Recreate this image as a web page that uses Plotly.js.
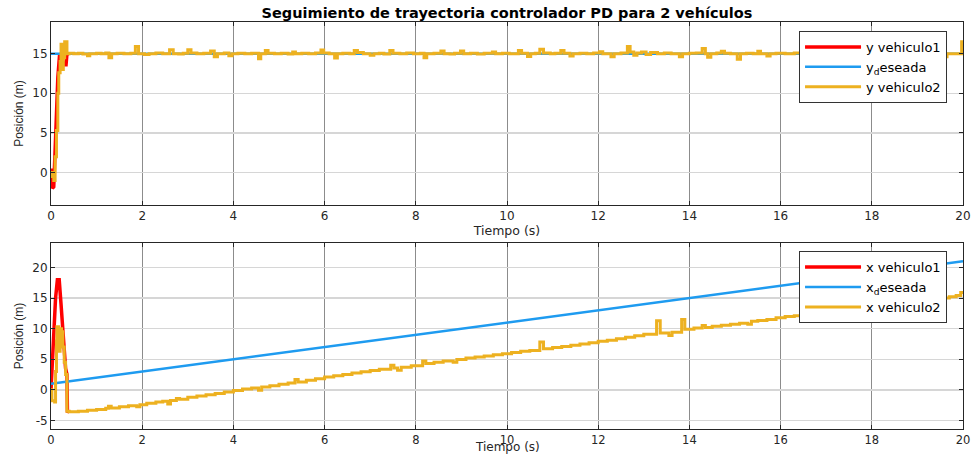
<!DOCTYPE html>
<html>
<head>
<meta charset="utf-8">
<script src="https://cdn.plot.ly/plotly-3.0.1.min.js"></script>
<style>html,body{margin:0;padding:0;background:#fff}#chart{width:974px;height:456px}</style>
</head>
<body>
<div id="chart"></div>
<script>
// ---- Data ----
const xTicks = [0,2,4,6,8,10,12,14,16,18,20];
const yTopTicks = [0,5,10,15];
const yBotTicks = [-5,0,5,10,15,20];
const yBotTickText = ['-5','0','5','10','15','20'];

// Top: y desired
const tYdes = [0, 20];
const yDes = [15, 15];
// Top: y vehiculo1 (transient, then coincides with vehiculo2)
const tY1 = [0,0.03,0.06,0.1,0.15,0.19,0.23,0.27,0.33,0.35,0.4];
const yV1 = [0.5,-2,-1.8,5,12,15,14.8,13.6,13.6,15,15];
// Top: y vehiculo2
const tY2 = [0,0.03,0.06,0.09,0.12,0.15,0.17,0.2,0.22,0.25,0.27,0.3,0.33,0.35,
 0.4,0.5,0.6,0.7,0.8,0.85,1.0,1.1,1.2,1.27,1.33,1.45,1.6,1.75,1.85,1.92,2.05,2.15,2.3,2.45,2.6,2.68,2.8,2.9,3.0,3.07,
 3.2,3.35,3.5,3.58,3.65,3.8,3.9,3.97,4.1,4.25,4.4,4.55,4.6,4.7,4.76,4.9,5.05,5.2,5.3,5.36,5.5,5.65,5.8,5.92,5.98,
 6.1,6.22,6.28,6.4,6.55,6.65,6.72,6.85,7.0,7.08,7.2,7.3,7.43,7.5,7.65,7.8,7.95,8.1,8.18,8.24,8.4,8.55,8.62,8.75,8.85,
 8.98,9.05,9.2,9.35,9.5,9.68,9.75,9.9,10.05,10.25,10.32,10.45,10.52,10.62,10.72,10.8,10.95,11.05,11.18,11.25,11.38,
 11.45,11.6,11.75,11.9,12.03,12.1,12.28,12.35,12.5,12.64,12.7,12.78,12.85,12.95,13.05,13.15,13.3,13.45,13.6,13.78,
 13.85,14.0,14.15,14.28,14.35,14.4,14.47,14.6,14.7,14.77,14.9,15.05,15.12,15.25,15.4,15.5,15.56,15.7,15.77,15.9,
 16.1,16.3,16.5,16.7,16.9,17.1,17.3,17.5,17.7,17.9,18.1,18.3,18.5,18.7,18.9,19.1,19.3,19.5,19.58,19.65,19.8,19.97,20];
const yV2 = [0,-0.5,-1.0,2,5.3,10,12.6,14,16.2,13,14.5,16.5,16.5,15,
 15.05,15.0,15.05,14.95,14.75,15.0,15.05,15.0,15.1,14.5,15.0,15.05,15.0,15.05,15.9,15.0,14.9,15.0,15.1,15.0,15.5,15.0,14.95,15.05,15.5,15.1,
 15.0,15.05,15.35,14.6,15.0,15.1,14.75,15.0,15.05,15.0,15.05,14.35,15.0,15.4,15.05,15.0,15.05,14.95,15.2,15.0,15.05,15.0,15.1,15.45,15.1,
 15.0,14.45,15.0,15.05,15.0,15.4,15.15,15.0,14.8,15.0,15.05,14.95,15.4,15.05,15.0,15.1,15.0,15.05,14.5,15.0,15.05,15.35,15.0,14.95,15.05,
 15.35,15.0,15.05,14.95,15.05,15.2,15.0,15.05,15.0,15.4,15.05,14.65,15.0,15.05,15.55,15.1,15.0,15.05,15.4,15.05,14.7,
 15.0,15.05,15.0,15.1,15.25,15.0,14.6,15.0,15.1,15.9,15.2,14.8,15.1,15.2,14.9,15.15,15.0,15.1,15.0,14.6,
 15.0,15.05,15.1,15.65,15.0,14.55,15.0,15.1,15.3,15.05,15.0,14.3,15.0,15.05,15.0,15.3,15.0,14.7,15.0,15.05,
 15.0,15.1,15.0,15.05,14.9,15.05,15.0,15.1,15.0,15.05,14.95,15.05,15.0,15.1,15.0,15.05,15.0,15.05,14.6,15.0,15.0,16.5,16.5];

// Bottom: x desired
const tXdes = [0, 20];
const xDes = [1, 21];
// Bottom: x vehiculo1 (transient)
const tX1 = [0,0.05,0.1,0.14,0.18,0.22,0.27,0.32,0.35,0.36,0.4];
const xV1 = [0,8,15,18,18,14,8.5,3.5,2.5,-3.5,-3.6];
// Bottom: x vehiculo2
const tX2 = [0,0.02,0.08,0.1,0.12,0.13,0.16,0.17,0.18,0.2,0.23,0.26,0.29,0.32,0.35,
 0.4,0.6,0.8,1.0,1.2,1.26,1.32,1.5,1.7,1.88,1.95,2.1,2.3,2.45,2.56,2.62,2.75,2.82,3.0,3.2,3.4,3.6,3.8,4.0,4.2,4.4,
 4.55,4.62,4.8,5.0,5.2,5.35,5.42,5.6,5.8,6.0,6.2,6.4,6.6,6.8,7.0,7.2,7.45,7.52,7.6,7.68,7.9,8.15,8.22,8.4,8.6,8.82,
 8.9,9.1,9.3,9.5,9.7,9.9,10.1,10.3,10.5,10.72,10.8,11.0,11.2,11.4,11.6,11.8,12.0,12.2,12.4,12.6,12.8,13.0,13.28,
 13.36,13.55,13.62,13.83,13.9,14.1,14.28,14.35,14.5,14.7,14.9,15.1,15.28,15.36,15.5,15.7,15.9,16.1,16.3,16.5,16.7,
 16.9,16.98,17.05,17.2,17.28,17.5,17.7,17.9,18.1,18.28,18.35,18.55,18.8,19.05,19.12,19.3,19.5,19.7,19.85,19.95,20];
const xV2 = [0,-1.8,-2.0,3,8,10.3,10.3,8,6.3,10,9.5,7,4.5,2.5,-3.5,
 -3.6,-3.5,-3.35,-3.2,-3.0,-2.7,-2.95,-2.75,-2.6,-2.75,-2.45,-2.2,-2.0,-1.85,-2.3,-1.75,-1.4,-1.55,-1.2,-1.0,-0.8,-0.6,-0.35,-0.1,0.15,0.3,
 -0.05,0.45,0.65,0.9,1.1,1.7,1.3,1.55,1.8,2.1,2.3,2.5,2.75,2.95,3.15,3.35,4.0,3.55,3.2,3.7,3.95,4.7,4.3,4.5,4.7,4.5,
 4.95,5.2,5.35,5.55,5.75,5.9,6.1,6.3,6.45,7.8,6.7,6.9,7.1,7.3,7.5,7.7,7.95,8.1,8.35,8.6,8.85,9.1,11.3,
 9.3,8.9,9.4,11.5,9.9,10.1,10.5,10.2,10.4,10.55,10.7,10.9,10.7,11.2,11.35,11.5,11.8,12.0,12.1,12.25,12.4,
 12.6,12.2,12.7,13.6,12.9,13.1,13.3,13.5,13.7,14.6,13.9,14.1,14.3,14.2,14.6,14.8,15.0,15.2,15.4,15.9,15.7];

// ---- Styling ----
const RED = '#ff0000', BLUE = '#1e9bf0', YEL = '#edb120';
const FONT = 'DejaVu Sans, Liberation Sans, Arial, sans-serif';

const traces = [
  {x:tY1, y:yV1, mode:'lines', name:'y vehiculo1', line:{color:RED, width:3.5}, xaxis:'x', yaxis:'y', legend:'legend'},
  {x:tYdes, y:yDes, mode:'lines', name:'y<sub>d</sub>eseada', line:{color:BLUE, width:2.5}, xaxis:'x', yaxis:'y', legend:'legend'},
  {x:tY2, y:yV2, mode:'lines', name:'y vehiculo2', line:{color:YEL, width:3, shape:'hv'}, xaxis:'x', yaxis:'y', legend:'legend'},
  {x:tX1, y:xV1, mode:'lines', name:'x vehiculo1', line:{color:RED, width:3.5}, xaxis:'x2', yaxis:'y2', legend:'legend2'},
  {x:tXdes, y:xDes, mode:'lines', name:'x<sub>d</sub>eseada', line:{color:BLUE, width:2.5}, xaxis:'x2', yaxis:'y2', legend:'legend2'},
  {x:tX2, y:xV2, mode:'lines', name:'x vehiculo2', line:{color:YEL, width:3, shape:'hv'}, xaxis:'x2', yaxis:'y2', legend:'legend2'}
];

function xax(anchor, withTitle, tickSize){
  const a = {anchor:anchor, domain:[0,1], range:[0,20], tickvals:xTicks, ticks:'inside', ticklen:4,
    tickcolor:'#262626', showline:true, linecolor:'#262626', linewidth:1, mirror:'ticks',
    showgrid:true, gridcolor:'#8c8c8c', gridwidth:1, zeroline:false,
    tickfont:{family:FONT, size:tickSize, color:'#262626'}};
  if (withTitle) a.title = {text:'Tiempo (s)', font:{family:FONT, size:12.5, color:'#262626'}, standoff:0};
  return a;
}
function yax(anchor, dom, rng, tv, tt){
  const a = {anchor:anchor, domain:dom, range:rng, tickvals:tv, ticks:'inside', ticklen:4,
    tickcolor:'#262626', showline:true, linecolor:'#262626', linewidth:1, mirror:'ticks',
    showgrid:true, gridcolor:'#d6d6d6', gridwidth:1.5, zeroline:false,
    tickfont:{family:FONT, size:12, color:'#262626'},
    title:{text:'Posición (m)', font:{family:'Liberation Sans Narrow, Liberation Sans, Arial, sans-serif', size:12, color:'#262626'}, standoff:6}};
  if (tt) a.ticktext = tt;
  return a;
}

const legendCommon = {x:0.9825, xanchor:'right', yanchor:'top', bgcolor:'#ffffff', bordercolor:'#333333', borderwidth:1,
    font:{family:FONT, size:13, color:'#000'}, tracegroupgap:0, itemwidth:56};

const layout = {
  width:974, height:456,
  margin:{l:51, r:11, t:22, b:27},
  paper_bgcolor:'#ffffff', plot_bgcolor:'#ffffff',
  showlegend:true,
  title:{text:'<b>Seguimiento de trayectoria controlador PD para 2 vehículos</b>',
    font:{family:FONT, size:14.5, color:'#000'}, x:0.5, xref:'paper', y:1-13/456, yref:'container', yanchor:'middle'},
  xaxis: xax('y', true, 12),
  yaxis: yax('x', [0.5504,1], [-4.1,19], yTopTicks),
  xaxis2: xax('y2', false, 11.5),
  yaxis2: yax('x2', [0,0.457], [-6.4,24], yBotTicks, yBotTickText),
  legend: Object.assign({}, legendCommon, {y:0.978}),
  legend2: Object.assign({}, legendCommon, {y:0.437}),
  annotations:[{text:'Tiempo (s)', xref:'paper', yref:'paper', x:0.5, y:-27/407, xanchor:'center', yanchor:'bottom',
    showarrow:false, font:{family:FONT, size:12, color:'#262626'}}]
};

Plotly.newPlot('chart', traces, layout, {displayModeBar:false, staticPlot:true});
</script>
</body>
</html>
